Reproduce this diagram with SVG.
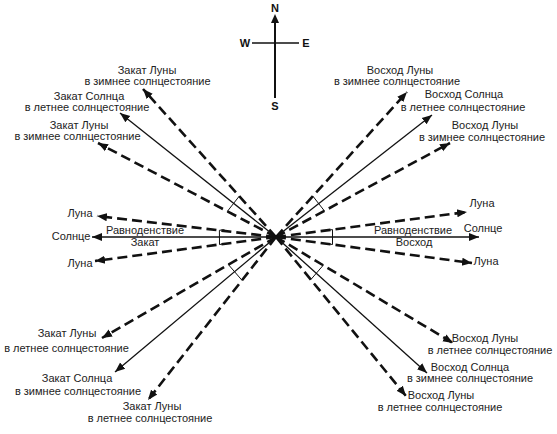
<svg xmlns="http://www.w3.org/2000/svg" width="557" height="434" viewBox="0 0 557 434">
<style>
text{font-family:"Liberation Sans",Arial,sans-serif;font-size:11px;fill:#222;text-anchor:middle}
.cl{font-weight:bold;font-size:11px;fill:#111}
.sun{stroke:#111;stroke-width:1.3;fill:none;marker-end:url(#ah)}
.moon{stroke:#111;stroke-width:2.6;fill:none;stroke-dasharray:10 5;marker-end:url(#ah)}
.ang{stroke:#111;stroke-width:1;fill:none}
</style>
<defs>
<marker id="ah" markerUnits="userSpaceOnUse" markerWidth="12" markerHeight="10" viewBox="0 0 12 10" refX="10" refY="5" orient="auto">
<path d="M0,1 L10,5 L0,9 Z" fill="#111"/>
</marker>
</defs>
<g id="compass">
<line x1="275" y1="21" x2="275" y2="98" stroke="#111" stroke-width="2"/>
<path d="M275,14 L279,23 L271,23 Z" fill="#111"/>
<line x1="252" y1="43" x2="299" y2="43" stroke="#111" stroke-width="1.4"/>
<text class="cl" x="275" y="12">N</text>
<text class="cl" x="245" y="47">W</text>
<text class="cl" x="306" y="47">E</text>
<text class="cl" x="275" y="110">S</text>
</g>
<g id="connectors">
<line class="moon" x1="276" y1="237" x2="143" y2="89"/>
<line class="sun" x1="276" y1="237" x2="120" y2="113"/>
<line class="moon" x1="276" y1="237" x2="98" y2="143"/>
<line class="moon" x1="276" y1="237" x2="407" y2="92"/>
<line class="sun" x1="276" y1="237" x2="432" y2="115"/>
<line class="moon" x1="276" y1="237" x2="450" y2="143"/>
<line class="moon" x1="276" y1="237" x2="97" y2="216"/>
<line class="sun" x1="276" y1="237" x2="92" y2="237"/>
<line class="moon" x1="276" y1="237" x2="95" y2="261"/>
<line class="moon" x1="276" y1="237" x2="467" y2="212"/>
<line class="sun" x1="276" y1="237" x2="479" y2="237"/>
<line class="moon" x1="276" y1="237" x2="472" y2="263"/>
<line class="moon" x1="276" y1="237" x2="102" y2="338"/>
<line class="sun" x1="276" y1="237" x2="115" y2="372"/>
<line class="moon" x1="276" y1="237" x2="148" y2="400"/>
<line class="moon" x1="276" y1="237" x2="453" y2="343"/>
<line class="sun" x1="276" y1="237" x2="427" y2="373"/>
<line class="moon" x1="276" y1="237" x2="406" y2="396"/>
</g>
<g id="angles">
<path class="ang" d="M224.4,229.7 L219.4,230.3 L219.5,244.5 L224.5,243.8"/>
<path class="ang" d="M327.5,230.2 L332.5,229.6 L332.5,244.5 L327.5,243.8"/>
<path class="ang" d="M242.6,199.8 L239.3,196.1 L227.4,211.3 L231.8,213.6"/>
<path class="ang" d="M309.6,199.9 L312.9,196.2 L324.4,210.9 L320,213.3"/>
<path class="ang" d="M232.7,262.1 L228.4,264.6 L242,280.3 L245.1,276.4"/>
<path class="ang" d="M318.9,262.7 L323.2,265.3 L310.8,279.6 L307.6,275.7"/>
</g>
<g id="label-ul1"><text x="147" y="74">Закат Луны</text><text x="147.5" y="85">в зимнее солнцестояние</text></g>
<g id="label-ul2"><text x="89" y="100">Закат Солнца</text><text x="87" y="111">в летнее солнцестояние</text></g>
<g id="label-ul3"><text x="79" y="129">Закат Луны</text><text x="77.5" y="140">в зимнее солнцестояние</text></g>
<g id="label-ur1"><text x="400" y="74">Восход Луны</text><text x="397" y="85">в зимнее солнцестояние</text></g>
<g id="label-ur2"><text x="464" y="98">Восход Солнца</text><text x="463" y="111">в летнее солнцестояние</text></g>
<g id="label-ur3"><text x="485" y="129">Восход Луны</text><text x="482" y="141">в зимнее солнцестояние</text></g>
<g id="label-w">
<text x="80" y="217">Луна</text>
<text x="71" y="240">Солнце</text>
<text x="145" y="234">Равноденствие</text>
<text x="145" y="246">Закат</text>
<text x="80" y="267">Луна</text>
</g>
<g id="label-e">
<text x="482" y="207">Луна</text>
<text x="483" y="232">Солнце</text>
<text x="413" y="234">Равноденствие</text>
<text x="414" y="246">Восход</text>
<text x="486" y="265">Луна</text>
</g>
<g id="label-ll1"><text x="67" y="337">Закат Луны</text><text x="66.5" y="352">в летнее солнцестояние</text></g>
<g id="label-ll2"><text x="77" y="382">Закат Солнца</text><text x="78" y="395">в зимнее солнцестояние</text></g>
<g id="label-ll3"><text x="152" y="410">Закат Луны</text><text x="150" y="422">в летнее солнцестояние</text></g>
<g id="label-lr1"><text x="485" y="342">Восход Луны</text><text x="490" y="354">в летнее солнцестояние</text></g>
<g id="label-lr2"><text x="470" y="371">Восход Солнца</text><text x="470" y="382">в зимнее солнцестояние</text></g>
<g id="label-lr3"><text x="441" y="399">Восход Луны</text><text x="440" y="411">в летнее солнцестояние</text></g>
</svg>
